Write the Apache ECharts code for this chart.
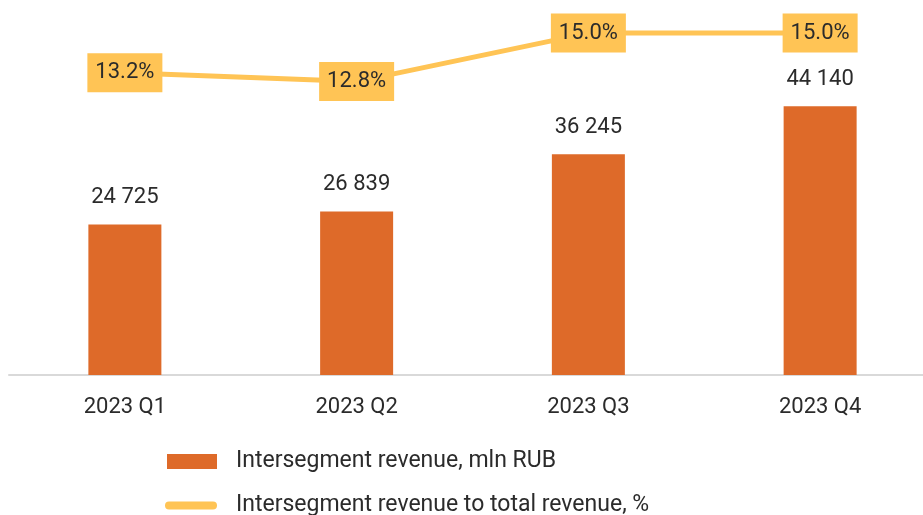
<!DOCTYPE html>
<html>
<head>
<meta charset="utf-8">
<script src="https://cdn.jsdelivr.net/npm/echarts@6/dist/echarts.min.js"></script>
<style>
  html, body { margin: 0; padding: 0; background: #fff; }
  #chart { width: 923px; height: 515px; }
</style>
</head>
<body>
<div id="chart"></div>
<script>
// data
const quarters = ['2023 Q1', '2023 Q2', '2023 Q3', '2023 Q4']
const revenue = [24725, 26839, 36245, 44140]      // mln RUB
const revenueShare = [13.2, 12.8, 15.0, 15.0]     // % of total revenue
const barName = 'Intersegment revenue, mln RUB'
const lineName = 'Intersegment revenue to total revenue, %'

const BAR_COLOR = '#DE6A29'
const LINE_COLOR = '#FFC455'
const FONT = 'Roboto'

const legendText = { fontSize: 23, color: '#2b2b2b', padding: [0, 0, 0, 14], fontFamily: FONT }

const chart = echarts.init(document.getElementById('chart'))

chart.setOption({
  animation: false,
  textStyle: { fontFamily: FONT },
  grid: {
    left: 9,
    top: 0,
    width: 927,
    height: 375,
    outerBoundsMode: 'none'
  },
  legend: [{
    left: 162,
    top: 445,
    itemWidth: 50,
    itemHeight: 15,
    textStyle: legendText,
    data: [{ name: barName, icon: 'rect' }]
  }, {
    left: 160,
    top: 489,
    itemWidth: 52,
    itemHeight: 15,
    textStyle: legendText,
    data: [{ name: lineName, icon: 'path://M4,0 L48,0 A4,4 0 0 1 48,8 L4,8 A4,4 0 0 1 4,0 Z' }]
  }],
  xAxis: {
    type: 'category',
    data: quarters,
    axisLine: { lineStyle: { color: '#d9d9d9', width: 2 } },
    axisTick: { show: false },
    axisLabel: { fontSize: 22, color: '#2b2b2b', margin: 21 }
  },
  yAxis: [{
    type: 'value',
    min: 0,
    max: 61600,
    show: false
  }, {
    type: 'value',
    min: -0.5,
    max: 16.5,
    show: false
  }],
  series: [{
    name: barName,
    type: 'bar',
    data: revenue,
    barWidth: 73,
    itemStyle: { color: BAR_COLOR },
    label: {
      show: true,
      position: 'top',
      distance: 16,
      fontSize: 22,
      color: '#2b2b2b',
      formatter: p => String(p.value).replace(/\B(?=(\d{3})+(?!\d))/g, ' ')
    }
  }, {
    name: lineName,
    type: 'line',
    yAxisIndex: 1,
    data: revenueShare,
    symbol: 'circle',
    symbolSize: 2,
    itemStyle: { color: LINE_COLOR },
    lineStyle: { color: LINE_COLOR, width: 5 },
    z: 3,
    label: {
      show: true,
      position: 'inside',
      fontSize: 22,
      color: '#2b2b2b',
      backgroundColor: LINE_COLOR,
      padding: [9, 8, 8, 8],
      formatter: p => p.value.toFixed(1) + '%'
    }
  }]
})
</script>
</body>
</html>
